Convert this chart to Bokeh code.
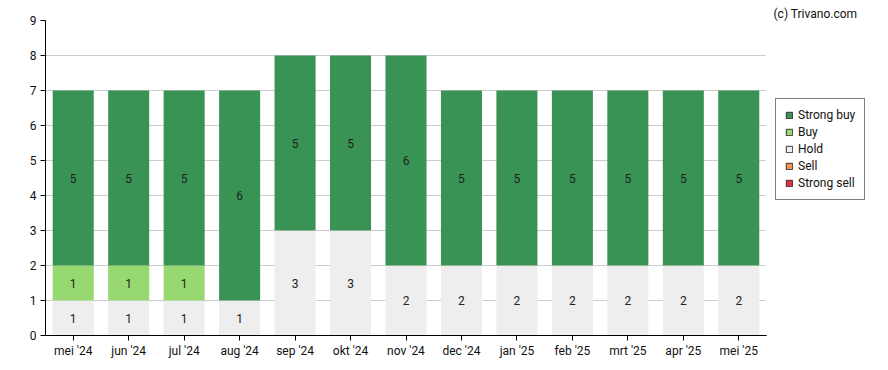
from bokeh.plotting import figure
from bokeh.layouts import row
from bokeh.models import ColumnDataSource, FactorRange, Range1d, Legend, LegendItem, FixedTicker
from bokeh.core.properties import value
from bokeh.embed import file_html
from bokeh.resources import INLINE

months = ["mei '24", "jun '24", "jul '24", "aug '24", "sep '24", "okt '24", "nov '24",
          "dec '24", "jan '25", "feb '25", "mrt '25", "apr '25", "mei '25"]
strong_buy = [5, 5, 5, 6, 5, 5, 6, 5, 5, 5, 5, 5, 5]
buy = [1, 1, 1, 0, 0, 0, 0, 0, 0, 0, 0, 0, 0]
hold = [1, 1, 1, 1, 3, 3, 2, 2, 2, 2, 2, 2, 2]
sell = [0] * 13
strong_sell = [0] * 13

series = ["strong_sell", "sell", "hold", "buy", "strong_buy"]
names = {"strong_buy": "Strong buy", "buy": "Buy", "hold": "Hold", "sell": "Sell", "strong_sell": "Strong sell"}
colors = {"strong_buy": "#389355", "buy": "#97d870", "hold": "#eeeeee", "sell": "#f7934a", "strong_sell": "#e5303e"}
data = {"months": months, "strong_buy": strong_buy, "buy": buy, "hold": hold,
        "sell": sell, "strong_sell": strong_sell}
src = ColumnDataSource(data)

FONT = "Roboto"
p = figure(width=766, height=370, x_range=FactorRange(*months, range_padding=0),
           y_range=Range1d(0, 9), output_backend="svg", toolbar_location=None,
           min_border_left=45, min_border_right=0, min_border_top=20, min_border_bottom=35)
p.outline_line_color = None
p.background_fill_color = "white"

rs = p.vbar_stack(series, x="months", width=0.74, source=src,
                  color=[colors[s] for s in series], line_color=None)

# labels
lx, ly, lt = [], [], []
cum = [0] * len(months)
for s in series:
    vals = data[s]
    for i, m in enumerate(months):
        v = vals[i]
        if v > 0:
            lx.append(m)
            ly.append(cum[i] + v / 2)
            lt.append(str(v))
        cum[i] += v
lsrc = ColumnDataSource(dict(x=lx, y=ly, t=lt))
p.text(x="x", y="y", text="t", source=lsrc, text_align="center", text_baseline="middle",
       text_font=value(FONT), text_font_size="12px", text_color="#222222")

p.xgrid.grid_line_color = None
p.ygrid.grid_line_color = "#cccccc"
p.yaxis.ticker = FixedTicker(ticks=list(range(0, 10)))
p.yaxis.minor_tick_line_color = None
for ax in (p.xaxis, p.yaxis):
    ax.axis_line_color = "black"
    ax.major_tick_line_color = "black"
    ax.major_tick_out = 5
    ax.major_tick_in = 0
    ax.major_label_text_font = FONT
    ax.major_label_text_font_size = "12px"
    ax.major_label_text_color = "#111111"
p.yaxis.major_label_standoff = 4
p.xaxis.major_label_standoff = 3

# side panel with legend and credit
p2 = figure(width=122, height=370, x_range=Range1d(0, 1), y_range=Range1d(0, 1),
            output_backend="svg", toolbar_location=None,
            x_axis_location=None, y_axis_location=None,
            title="(c) Trivano.com",
            min_border=0, min_border_left=0, min_border_right=0, min_border_top=0, min_border_bottom=0)
p2.outline_line_color = None
p2.grid.grid_line_color = None
p2.title.text_font = FONT
p2.title.text_font_size = "12px"
p2.title.text_font_style = "normal"
p2.title.text_color = "#111111"
p2.title.align = "left"
p2.title.offset = 7
p2.title.standoff = 0

items = []
for s in ["strong_buy", "buy", "hold", "sell", "strong_sell"]:
    r = p2.vbar(x=[-10], top=[-10], bottom=[-11], width=0.5, fill_color=colors[s],
                line_color="#333333", line_width=1)
    items.append(LegendItem(label=names[s], renderers=[r]))
legend = Legend(items=items, location=(9, 135), border_line_color="black",
                border_line_width=1, background_fill_color="white", background_fill_alpha=1,
                label_text_font=FONT, label_text_font_size="12px", label_text_color="#111111",
                glyph_width=8, glyph_height=8, label_height=12, spacing=3, padding=9,
                label_standoff=5, margin=0)
p2.add_layout(legend, "center")

layout = row(p, p2, spacing=0)
open("out.html", "w").write(file_html(layout, INLINE))
